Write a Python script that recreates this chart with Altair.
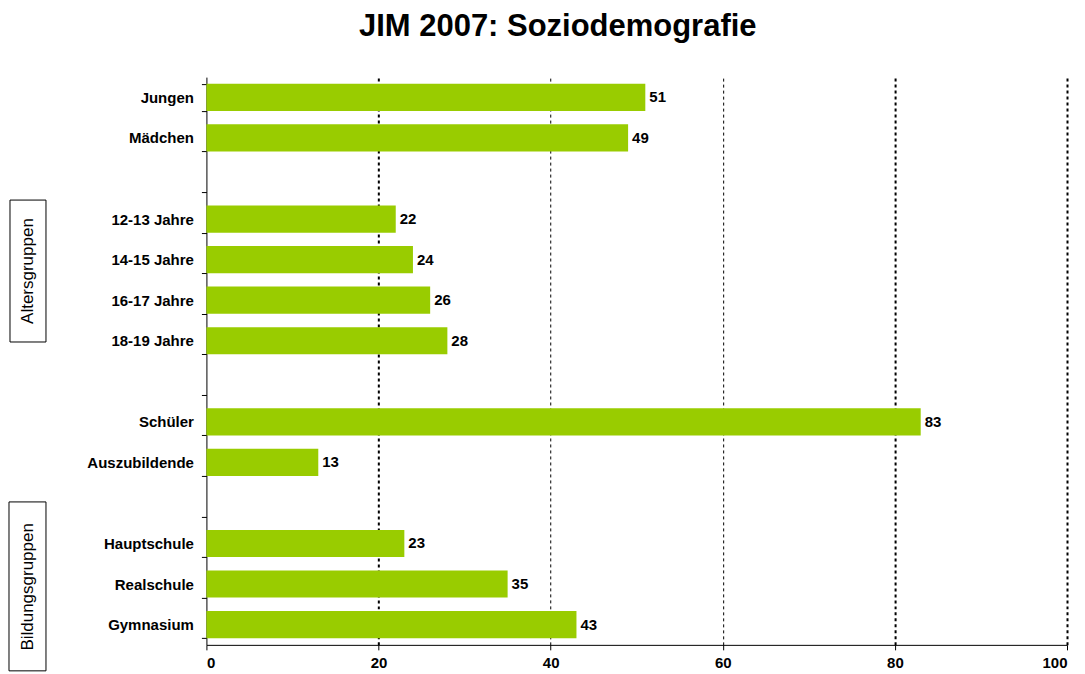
import altair as alt
import pandas as pd

categories = ["Jungen", "Mädchen", " ", "12-13 Jahre", "14-15 Jahre", "16-17 Jahre",
              "18-19 Jahre", "  ", "Schüler", "Auszubildende", "   ",
              "Hauptschule", "Realschule", "Gymnasium"]
values = [51, 49, None, 22, 24, 26, 28, None, 83, 13, None, 23, 35, 43]
x_ticks = [0, 20, 40, 60, 80, 100]
group_labels = ["Altersgruppen", "Bildungsgruppen"]

FONT = "Liberation Sans"
GREEN = "#99CC00"

df = pd.DataFrame({"cat": categories, "val": values})
bars_df = df.dropna()

W, H = 861, 568

y_enc = alt.Y("cat:N", sort=categories,
              scale=alt.Scale(domain=categories, paddingInner=0.33, paddingOuter=0.165),
              axis=alt.Axis(title=None, labelFont=FONT, labelFontSize=15, labelFontWeight="bold",
                            labelColor="black", tickBand="extent", tickSize=5, tickColor="black",
                            domainColor="black", labelPadding=8, grid=False))
x_enc = alt.X("val:Q", scale=alt.Scale(domain=[0, 100], nice=False),
              axis=alt.Axis(title=None, values=x_ticks, labelFont=FONT, labelFontSize=15,
                            labelFontWeight="bold", labelColor="black", tickSize=5,
                            tickColor="black", domainColor="black", labelPadding=6,
                            grid=True, gridColor="black", gridDash=[3, 3],
                            gridWidth=alt.condition("datum.value == 40 || datum.value == 60",
                                                    alt.value(1), alt.value(2)),
                            gridOpacity=alt.condition("datum.value == 0", alt.value(0), alt.value(1))))

bars = alt.Chart(bars_df).mark_bar(color=GREEN).encode(x=x_enc, y=y_enc)
labels = alt.Chart(bars_df).mark_text(align="left", baseline="middle", dx=4, font=FONT,
                                      fontSize=15, fontWeight="bold", color="black").encode(
    x="val:Q", y=alt.Y("cat:N", sort=categories), text=alt.Text("val:Q", format="d"))

box_df = pd.DataFrame({"label": group_labels,
                       "x1": [-196.5, -197.5], "x2": [-160.5, -160.5],
                       "y1": [123, 425], "y2": [265, 594],
                       "ty": [194, 510]})
boxes = alt.Chart(box_df).mark_rect(fill=None, stroke="black", strokeWidth=1, clip=False).encode(
    x=alt.X("x1:Q", scale=None), x2="x2:Q",
    y=alt.Y("y1:Q", scale=None), y2="y2:Q")
box_text = alt.Chart(box_df).mark_text(angle=270, align="center", baseline="middle", font=FONT,
                                       fontSize=17, color="black", clip=False).encode(
    x=alt.value(-178.5), y=alt.Y("ty:Q", scale=None), text="label:N")

chart = alt.layer(bars, labels, boxes, box_text).properties(
    width=W, height=H,
    title=alt.TitleParams("JIM 2007: Soziodemografie", font=FONT, fontSize=31, fontWeight="bold",
                          color="black", anchor="middle", dx=-79, offset=27),
    autosize=alt.AutoSizeParams(type="none"),
    padding={"left": 198.5, "top": 69, "right": 10, "bottom": 29},
).configure_view(stroke=None)

chart.save("out.html", embed_options={"renderer": "svg", "actions": False})
